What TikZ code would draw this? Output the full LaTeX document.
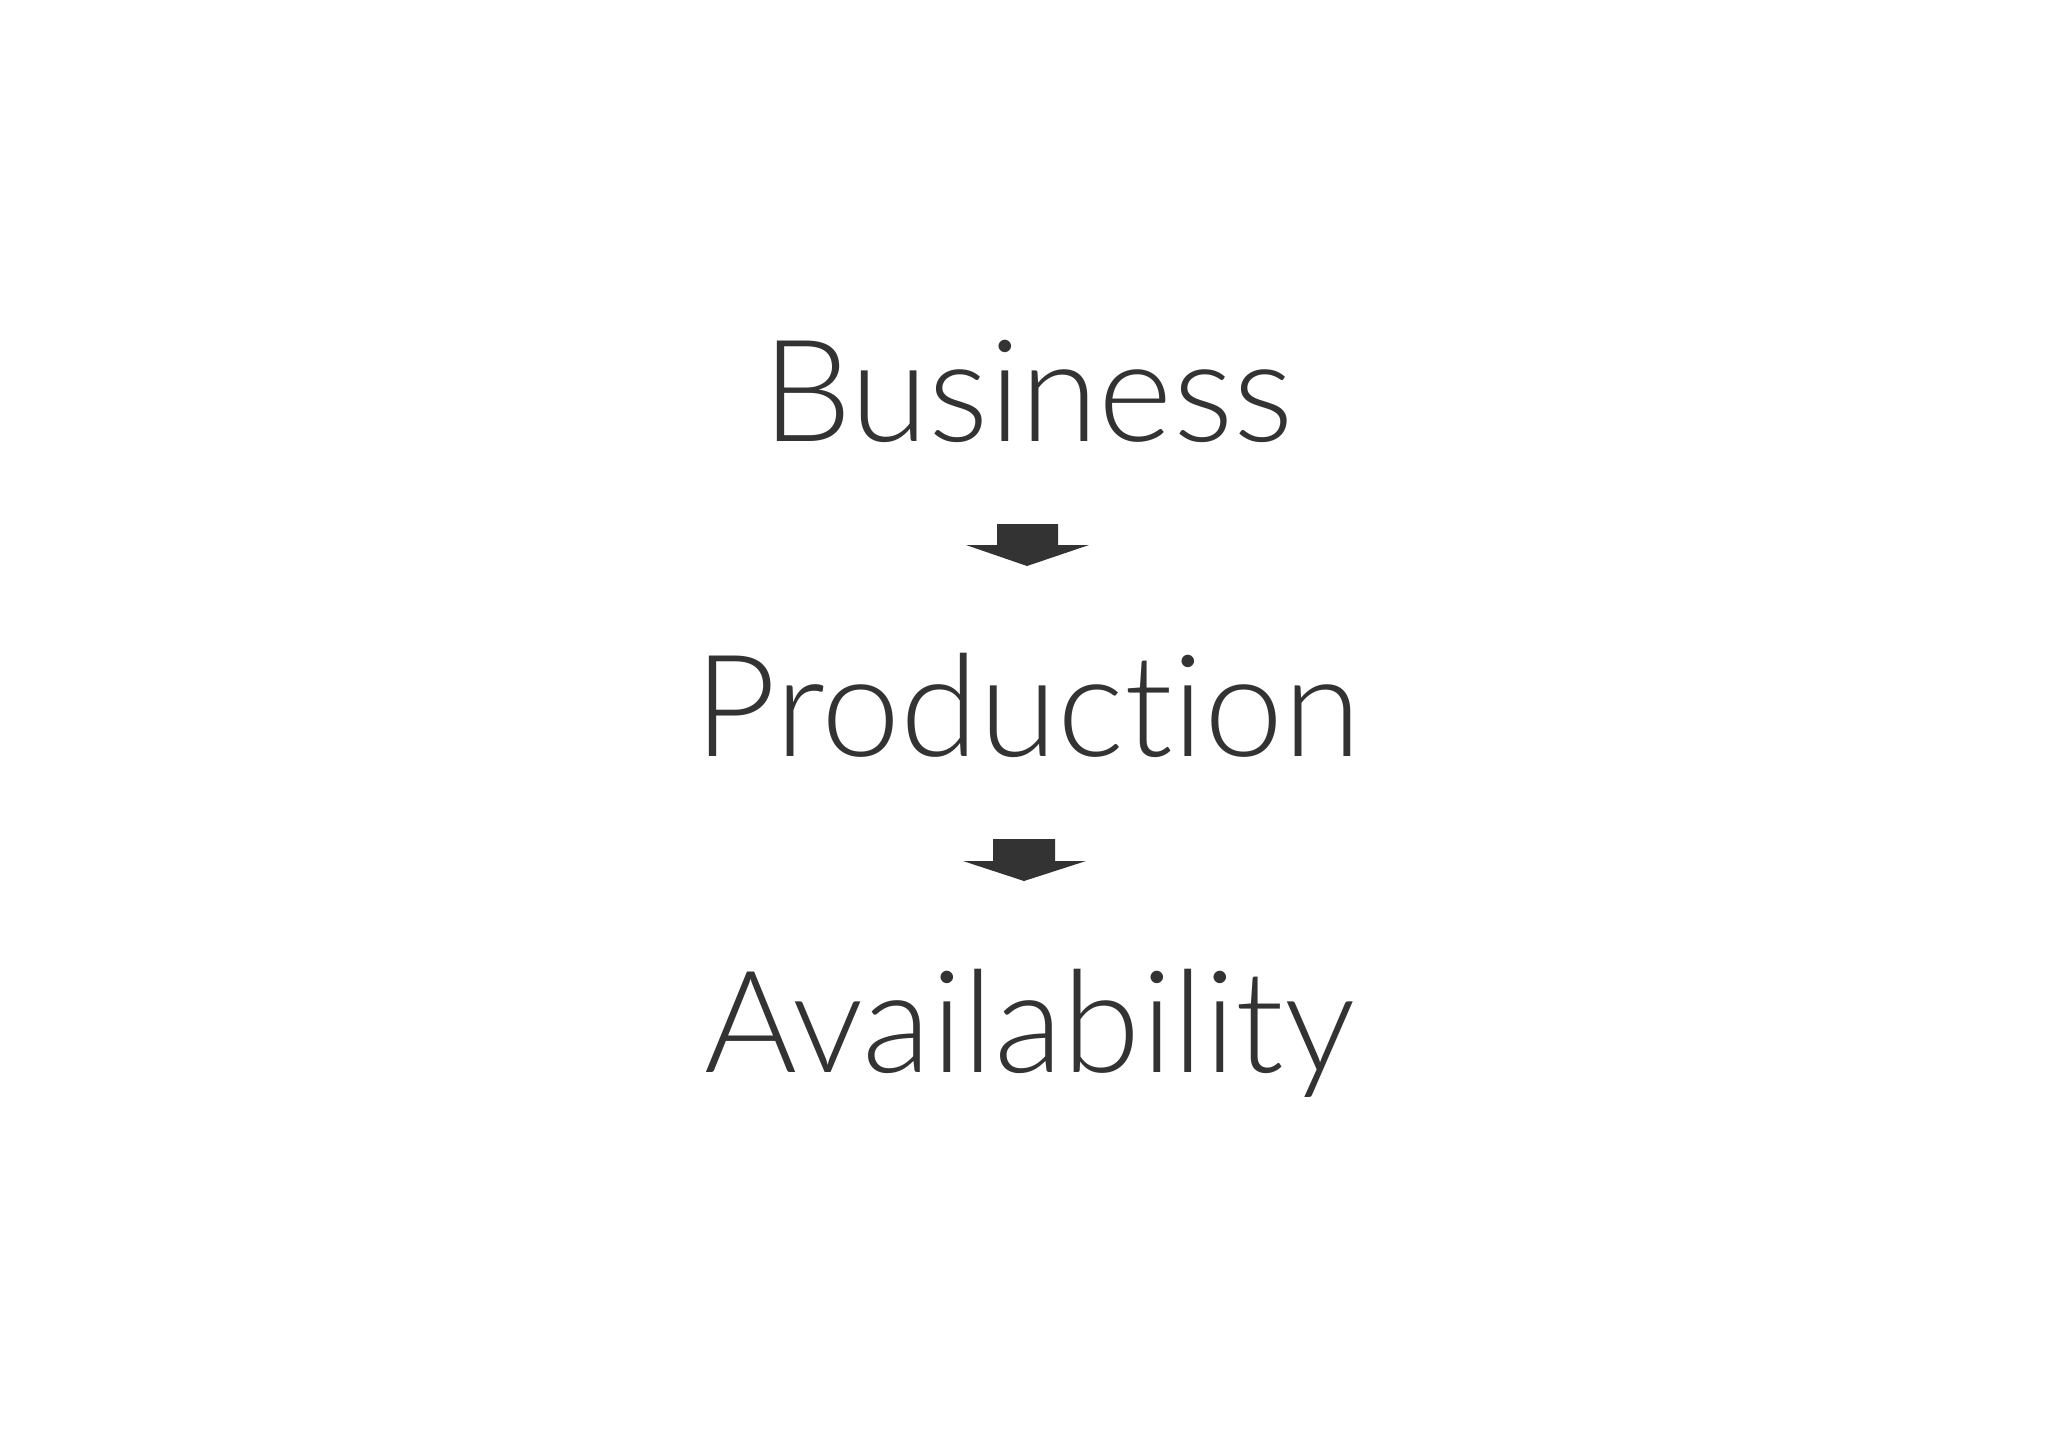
\documentclass[tikz,border=0pt]{standalone}
\usepackage{fontspec}
\setmainfont{Lato Light}[Ligatures={NoCommon,NoRare}]
\definecolor{ink}{HTML}{333333}
\begin{document}
\begin{tikzpicture}[x=0.5pt,y=-0.5pt,
  word/.style={inner sep=0pt,anchor=base,text=ink,font=\fontsize{71}{84}\selectfont},
  downarrow/.style={fill=ink,draw=none}]
\useasboundingbox (0,0) rectangle (2048,1449);
\node[word] (business) at (1028,441) {Business};
\node[word] (production) at (1028,756) {Produc\kern0pt t\kern0pt ion};
\node[word] (availability) at (1030,1072) {Availability};
\fill[downarrow] (997,524) -- (1058,524) -- (1058,545) -- (1089,545) -- (1027,566) -- (966,545) -- (997,545) -- cycle;
\fill[downarrow] (993,839) -- (1055,839) -- (1055,861) -- (1086,861) -- (1024,881) -- (963,861) -- (993,861) -- cycle;
\end{tikzpicture}
\end{document}
